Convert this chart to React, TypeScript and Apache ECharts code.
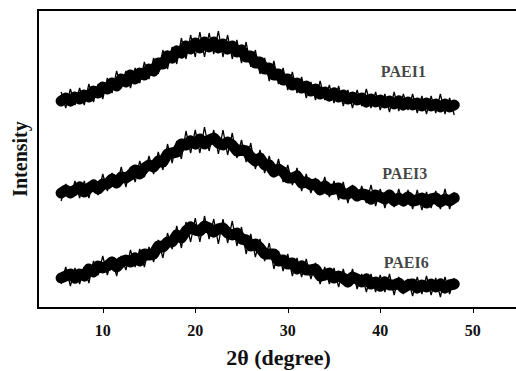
import React, { useEffect, useRef } from "react";
import * as echarts from "echarts";

const twoTheta = [
  5.5, 6, 6.5, 7, 7.5, 8, 8.5, 9, 9.5, 10, 10.5, 11, 11.5, 12, 12.5, 13, 13.5, 14, 14.5, 15,
  15.5, 16, 16.5, 17, 17.5, 18, 18.5, 19, 19.5, 20, 20.5, 21, 21.5, 22, 22.5, 23, 23.5, 24, 24.5, 25,
  25.5, 26, 26.5, 27, 27.5, 28, 28.5, 29, 29.5, 30, 30.5, 31, 31.5, 32, 32.5, 33, 33.5, 34, 34.5, 35,
  35.5, 36, 36.5, 37, 37.5, 38, 38.5, 39, 39.5, 40, 40.5, 41, 41.5, 42, 42.5, 43, 43.5, 44, 44.5, 45,
  45.5, 46, 46.5, 47, 47.5, 48,
];

// main body of each trace
const paei1 = [
  207, 210, 207, 211, 209, 213, 211, 217, 215, 221, 219, 225, 222, 229, 226, 233, 229, 235, 233, 239,
  237, 245, 244, 252, 250, 257, 255, 262, 259, 265, 260, 266, 261, 266, 260, 264, 259, 262, 256, 258,
  251, 252, 245, 246, 239, 240, 233, 234, 228, 229, 223, 225, 220, 222, 217, 219, 214, 216, 212, 215,
  211, 213, 209, 211, 208, 210, 206, 209, 206, 208, 205, 207, 204, 207, 203, 206, 203, 205, 202, 205,
  202, 204, 201, 204, 201, 203,
];

const paei3 = [
  115, 118, 115, 118, 121, 116, 120, 123, 119, 124, 124, 129, 125, 131, 130, 133, 138, 134, 140, 143,
  141, 147, 146, 154, 155, 156, 164, 163, 167, 164, 169, 164, 168, 170, 165, 163, 166, 163, 157, 158,
  157, 151, 147, 150, 143, 143, 136, 139, 136, 130, 130, 132, 125, 126, 123, 124, 118, 122, 118, 119,
  120, 114, 114, 117, 112, 114, 113, 109, 113, 111, 109, 113, 107, 110, 107, 111, 107, 108, 110, 105,
  109, 110, 106, 109, 107, 110,
];

const paei6 = [
  30, 32, 34, 30, 34, 32, 39, 36, 42, 40, 42, 46, 41, 46, 48, 46, 50, 47, 54, 53,
  54, 62, 61, 66, 66, 73, 70, 77, 81, 78, 77, 82, 80, 76, 79, 80, 75, 73, 75, 69,
  68, 62, 64, 60, 54, 54, 54, 47, 48, 44, 45, 39, 42, 38, 38, 39, 32, 33, 35, 30,
  32, 30, 26, 31, 29, 26, 29, 24, 26, 22, 26, 23, 23, 25, 20, 23, 24, 20, 23, 21,
  24, 21, 24, 20, 23, 24,
];

// noise extremes (spikes) of each trace
const paei1Noise = [
  216, 200, 219, 203, 220, 203, 224, 206, 224, 209, 230, 215, 237, 220, 237, 220, 240, 225, 246, 229,
  250, 234, 258, 239, 261, 244, 270, 249, 273, 251, 276, 251, 275, 254, 277, 251, 273, 249, 268, 245,
  266, 241, 258, 234, 250, 227, 247, 224, 240, 218, 236, 215, 231, 210, 226, 208, 227, 208, 223, 205,
  222, 202, 218, 200, 218, 202, 219, 200, 216, 198, 214, 196, 216, 197, 214, 198, 214, 195, 212, 194,
  212, 195, 214, 194, 210, 193,
];

const paei3Noise = [
  107, 124, 110, 127, 110, 127, 110, 128, 113, 134, 117, 135, 120, 141, 121, 141, 126, 147, 131, 152,
  134, 156, 138, 164, 145, 167, 149, 177, 155, 178, 155, 181, 157, 178, 154, 178, 153, 175, 150, 168,
  146, 165, 139, 158, 135, 152, 131, 149, 126, 143, 123, 140, 117, 134, 115, 130, 114, 131, 111, 127,
  108, 126, 105, 123, 107, 122, 105, 123, 102, 119, 100, 118, 101, 119, 102, 118, 99, 118, 98, 116,
  100, 117, 99, 119, 99, 116,
];

const paei6Noise = [
  24, 41, 22, 40, 24, 41, 25, 47, 33, 52, 33, 51, 32, 52, 38, 58, 41, 59, 41, 61,
  46, 68, 50, 75, 59, 82, 60, 86, 66, 90, 66, 92, 69, 89, 64, 89, 65, 87, 62, 81,
  54, 74, 51, 69, 47, 65, 39, 57, 37, 54, 32, 50, 31, 49, 29, 45, 24, 41, 24, 40,
  21, 39, 21, 39, 19, 34, 16, 34, 16, 33, 16, 34, 13, 31, 14, 29, 12, 31, 14, 32,
  13, 30, 11, 31, 14, 30,
];

const sampleNames = ["PAEI1", "PAEI3", "PAEI6"];
const labelTheta = [42.5, 42.65, 42.8];
const labelIntensity = [237, 135, 46];
const xTicks = [10, 20, 30, 40, 50];

const FONT = '"Liberation Serif", "Times New Roman", serif';

export default function App() {
  const ref = useRef<HTMLDivElement>(null);
  useEffect(() => {
    if (!ref.current) return;
    const chart = echarts.init(ref.current, null, { renderer: "svg" });
    const traces = [paei1, paei3, paei6];
    const noises = [paei1Noise, paei3Noise, paei6Noise];
    const series: any[] = [];
    traces.forEach((vals, i) => {
      series.push({
        type: "line",
        name: sampleNames[i],
        data: twoTheta.map((t, j) => [t, vals[j]]),
        showSymbol: false,
        symbol: "none",
        lineStyle: { color: "#000", width: 11, join: "round", cap: "round" },
        z: 2,
      });
      series.push({
        type: "line",
        name: sampleNames[i] + " noise",
        data: twoTheta.map((t, j) => [t, noises[i][j]]),
        showSymbol: false,
        symbol: "none",
        lineStyle: { color: "#000", width: 1.3, join: "miter", miterLimit: 3 },
        z: 2,
      });
    });
    series.push({
      type: "scatter",
      data: sampleNames.map((n, i) => ({ name: n, value: [labelTheta[i], labelIntensity[i]] })),
      symbolSize: 0,
      label: {
        show: true,
        position: "inside",
        formatter: (p: any) => p.name,
        color: "#111",
        fontFamily: FONT,
        fontWeight: "bold",
        fontSize: 16,
      },
      z: 3,
    });
    chart.setOption({
      animation: false,
      backgroundColor: "#fff",
      grid: {
        left: 38,
        right: -3,
        top: 10,
        bottom: 63,
        show: true,
        borderColor: "#000",
        borderWidth: 2,
        containLabel: false,
        outerBoundsMode: "none",
      },
      xAxis: {
        type: "value",
        min: 3,
        max: 55,
        name: "2θ (degree)",
        nameLocation: "middle",
        nameGap: 38,
        nameTextStyle: { fontFamily: FONT, fontWeight: "bold", fontSize: 22, color: "#111" },
        axisLine: { show: true, lineStyle: { color: "#000", width: 2 } },
        axisTick: { show: true, customValues: xTicks, length: 5, lineStyle: { color: "#000", width: 1 } },
        axisLabel: {
          customValues: xTicks,
          margin: 14,
          fontFamily: FONT,
          fontWeight: "bold",
          fontSize: 16,
          color: "#111",
        },
        splitLine: { show: false },
      },
      yAxis: {
        type: "value",
        min: 0,
        max: 298,
        name: "Intensity",
        nameLocation: "middle",
        nameRotate: 90,
        nameGap: 8,
        nameTextStyle: { fontFamily: FONT, fontWeight: "bold", fontSize: 20, color: "#111" },
        axisLine: { show: true, lineStyle: { color: "#000", width: 2 } },
        axisTick: { show: false },
        axisLabel: { show: false },
        splitLine: { show: false },
      },
      series,
    });
    return () => chart.dispose();
  }, []);
  return (
    <div
      ref={ref}
      style={{ position: "absolute", left: 0, top: 0, width: 516, height: 371 }}
    />
  );
}
